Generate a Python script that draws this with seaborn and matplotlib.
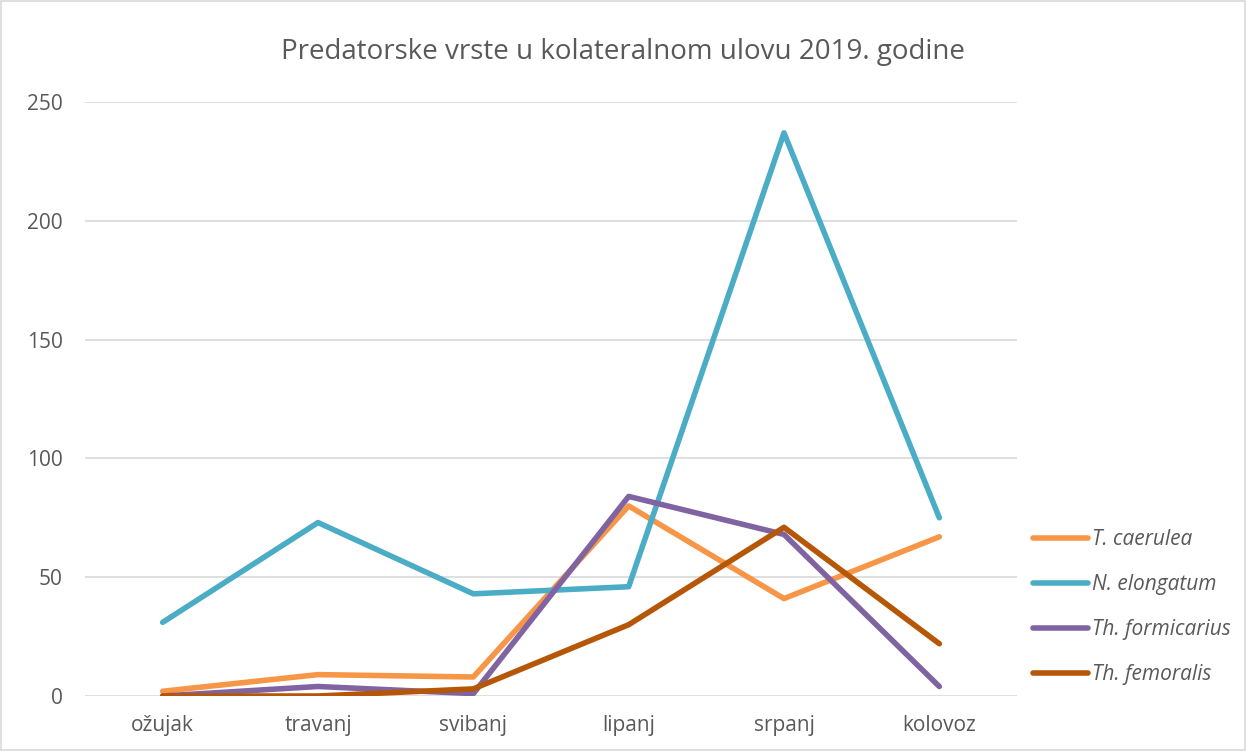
import matplotlib
import pandas as pd
import seaborn as sns

matplotlib.use("Agg")
import matplotlib.pyplot as plt

months = ["ožujak", "travanj", "svibanj", "lipanj", "srpanj", "kolovoz"]
species = ["T. caerulea", "N. elongatum", "Th. formicarius", "Th. femoralis"]
t_caerulea = [2, 9, 8, 80, 41, 67]
n_elongatum = [31, 73, 43, 46, 237, 75]
th_formicarius = [0, 4, 1, 84, 68, 4]
th_femoralis = [0, 0, 3, 30, 71, 22]
colors = ["#F79646", "#4BACC6", "#8064A2", "#B65708"]

series = [t_caerulea, n_elongatum, th_formicarius, th_femoralis]
rows = []
for name, values in zip(species, series):
    for month, value in zip(months, values):
        rows.append({"Mjesec": month, "Vrsta": name, "Broj": value})
data = pd.DataFrame(rows)

sns.set_theme(style="white")
plt.rcParams["font.family"] = ["Open Sans", "DejaVu Sans"]

fig = plt.figure(figsize=(12.46, 7.51), dpi=100)
ax = fig.add_axes([85 / 1246, 1 - 696 / 751, (1017 - 85) / 1246, (696 - 102) / 751])

sns.lineplot(data=data, x="Mjesec", y="Broj", hue="Vrsta", hue_order=species,
             palette=colors, linewidth=4.0, sort=False, ax=ax)
for line in ax.lines:
    line.set_solid_capstyle("round")
    line.set_solid_joinstyle("round")

ax.set_xlim(-0.5, 5.5)
ax.set_ylim(0, 250)
ax.set_yticks([0, 50, 100, 150, 200, 250])
ax.yaxis.grid(True, color="#D9D9D9", linewidth=1.2)
ax.set_axisbelow(True)
for spine in ax.spines.values():
    spine.set_visible(False)
ax.set_xlabel("")
ax.set_ylabel("")
ax.tick_params(axis="both", length=0, labelsize=15, labelcolor="#595959")
ax.tick_params(axis="x", pad=14)
ax.tick_params(axis="y", pad=16)

fig.text(0.5, 1 - 52 / 751, "Predatorske vrste u kolateralnom ulovu 2019. godine",
         ha="center", va="center", fontsize=20, color="#595959")

handles, labels = ax.get_legend_handles_labels()
leg = fig.legend(handles, labels, loc="center left", bbox_to_anchor=(1014 / 1246, 1 - 607 / 751),
                 frameon=False, handlelength=2.65, handletextpad=0.2,
                 labelspacing=1.15, prop={"style": "italic", "size": 15})
for text in leg.get_texts():
    text.set_color("#595959")
ax.get_legend().remove()

fig.patches.append(plt.Rectangle((0.001, 0.001), 0.998, 0.998, transform=fig.transFigure,
                                 fill=False, edgecolor="#D9D9D9", linewidth=1.2))

fig.savefig("out.png", dpi=100)
